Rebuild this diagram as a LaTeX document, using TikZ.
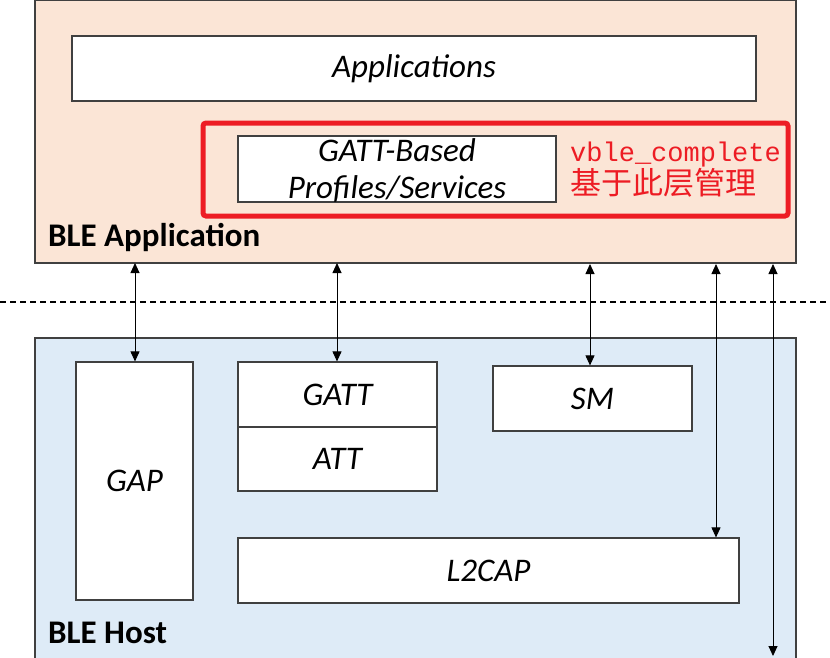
\documentclass[tikz,border=0pt]{standalone}
\usepackage{fontspec}
\setmainfont{Carlito}
\newfontfamily\cjk{Noto Sans CJK SC}
\newfontfamily\monof{Liberation Mono}
\usetikzlibrary{arrows.meta}
\definecolor{peach}{HTML}{FBE5D6}
\definecolor{paleblue}{HTML}{DEEBF7}
\definecolor{redbox}{HTML}{ED1C24}
\definecolor{edge}{HTML}{404040}
\tikzset{
  layer/.style={draw=edge, line width=1.2pt},
  blk/.style={draw=edge, fill=white, line width=1.2pt, inner sep=0pt},
  lbl/.style={font=\fontsize{33}{38}\selectfont\itshape},
  ttl/.style={font=\fontsize{33}{38}\selectfont\bfseries, anchor=base west, inner sep=0pt},
  conn/.style={line width=0.9pt, -{Triangle[length=10pt,width=9pt]}},
  dconn/.style={line width=0.9pt, {Triangle[length=10pt,width=9pt]}-{Triangle[length=10pt,width=9pt]}}
}
\begin{document}
\begin{tikzpicture}[x=1pt,y=-1pt]
\useasboundingbox (0,0) rectangle (830,657);
% layers
\draw[layer, fill=peach] (35,0) rectangle (796,263);
\draw[layer, fill=paleblue] (35,338) rectangle (796,670);
\node[ttl] (bleapp) at (48,246) {BLE Application};
\node[ttl] (blehost) at (48,643) {BLE Host};
% dashed separator
\draw[line width=1.1pt, dash pattern=on 6pt off 4pt] (0,302) -- (830,302);
% top blocks
\node[blk, minimum width=684pt, minimum height=65pt, lbl] (apps) at (414,68.5) {Applications};
\draw[redbox, line width=5pt, rounded corners=3pt] (203,123) rectangle (788,216);
\node[blk, minimum width=318pt, minimum height=66pt] (gattp) at (397,169) {};
\node[lbl, align=center, inner sep=0pt] (gattpt) at (397,170) {GATT-Based\\[-1pt]Profiles/Services};
\node[anchor=west, inner sep=0pt, text=redbox, font=\fontsize{27}{28}\selectfont\monof] (vble) at (570,155) {vble\_complete};
\node[anchor=west, inner sep=0pt, text=redbox, font=\fontsize{31}{32}\selectfont\cjk] (cn) at (570,183) {基于此层管理};
% bottom blocks
\node[blk, minimum width=117pt, minimum height=238pt, lbl] (gap) at (134.5,481) {GAP};
\node[blk, minimum width=199pt, minimum height=65pt, lbl] (gatt) at (337.5,394.5) {GATT};
\node[blk, minimum width=199pt, minimum height=64pt, lbl] (att) at (337.5,459) {ATT};
\node[blk, minimum width=199pt, minimum height=65pt, lbl] (sm) at (592.5,398.5) {SM};
\node[blk, minimum width=501pt, minimum height=65pt, lbl] (l2cap) at (488.5,570.5) {L2CAP};
% connectors
\coordinate (a1) at (135,263);
\coordinate (a2) at (337,263);
\coordinate (a3) at (590,264);
\coordinate (a4) at (716,264);
\coordinate (a5) at (773,264);
\coordinate (a5e) at (773,656);
\draw[dconn] (a1) -- (gap.north -| a1);
\draw[dconn] (a2) -- (gatt.north -| a2);
\draw[dconn] (a3) -- (sm.north -| a3);
\draw[dconn] (a4) -- (l2cap.north -| a4);
\draw[dconn] (a5) -- (a5e);
\end{tikzpicture}
\end{document}
